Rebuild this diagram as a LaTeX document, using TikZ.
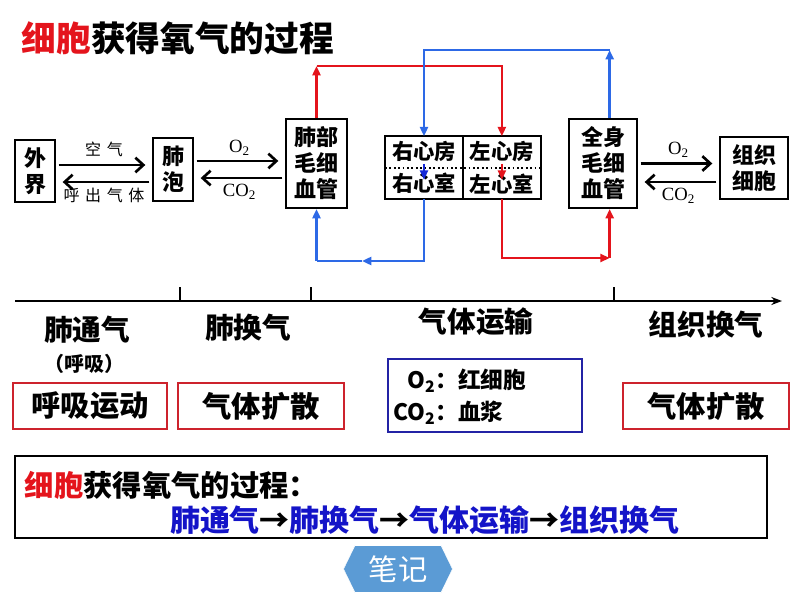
\documentclass[tikz,border=0pt]{standalone}
\usepackage{fontspec}
\setmainfont{Noto Sans CJK SC}
\newfontfamily\serifnum{Liberation Serif}
\newfontfamily\spacedcjk[LetterSpace=35]{Noto Sans CJK SC}
\usetikzlibrary{arrows.meta, positioning, fit, shapes.symbols}

\definecolor{artred}{RGB}{228,20,28}
\definecolor{veinblue}{RGB}{45,105,230}
\definecolor{innerblue}{RGB}{20,40,215}
\definecolor{inkblue}{RGB}{20,20,200}
\definecolor{boxred}{RGB}{205,35,45}
\definecolor{boxblue}{RGB}{35,35,165}
\definecolor{notefill}{RGB}{91,155,213}

\newcommand{\fsz}[2]{\fontsize{#1}{#2}\selectfont}

\begin{document}
\begin{tikzpicture}[x=0.75pt, y=-0.75pt, node distance=0pt,
  organ/.style={rectangle, draw, line width=1.5pt, align=center, inner sep=0pt, font=\bfseries\fsz{16.5pt}{19.5pt}},
  chamber/.style={minimum width=58pt, minimum height=23.25pt, inner sep=0pt, font=\bfseries\fsz{16pt}{19pt}},
  gas/.style={-{Straight Barb[length=6pt,width=11pt]}, line width=2pt, shorten <=2pt, shorten >=5pt},
  gaslabel/.style={font=\serifnum\fsz{14pt}{16pt}},
  airlabel/.style={font=\spacedcjk\fsz{12pt}{14pt}},
  artery/.style={artred, line width=1.8pt},
  vein/.style={veinblue, line width=1.8pt},
  headed/.style={-{Triangle[length=7pt,width=6pt]}},
  stage/.style={font=\bfseries\fsz{21.5pt}{25pt}},
  means/.style={rectangle, draw=boxred, line width=1.2pt, minimum width=115.5pt, minimum height=34.5pt, font=\bfseries\fsz{22pt}{26pt}}
]
  \useasboundingbox (0,0) rectangle (794,596);

  % Title
  \node (title) [anchor=west, font=\bfseries\fsz{26pt}{30pt}] at (17,38) {\textcolor{artred}{细胞}获得氧气的过程};

  % Organs
  \node (waijie) [organ, minimum width=30pt, minimum height=46.5pt] at (35,171) {外\\界};
  \node (feipao) [organ, minimum width=30pt, minimum height=47pt] at (173,169.5) {肺\\泡};
  \node (feibu) [organ, minimum width=45.75pt, minimum height=66.75pt] at (316.5,163.5) {肺部\\毛细\\血管};
  \node (quanshen) [organ, minimum width=51pt, minimum height=66.75pt] at (603,163.5) {全身\\毛细\\血管};
  \node (zuzhi) [organ, minimum width=51pt, minimum height=46.5pt] at (754,168) {组织\\细胞};

  % Heart
  \node (ra) [chamber] at (424,152) {右心房};
  \node (la) [chamber, right=of ra] {左心房};
  \node (rv) [chamber, below=of ra] {右心室};
  \node (lv) [chamber, below=of la] {左心室};
  \node (heart) [draw, line width=1.5pt, inner sep=0pt, fit=(ra)(lv)] {};
  \draw[line width=1pt] (ra.north east) -- (rv.south east);
  \draw[dotted, line width=1.3pt] (ra.south west) -- (la.south east);

  % Gas exchange arrows
  \draw[gas] ([yshift=4.5pt]waijie.east) -- ([yshift=4.5pt]waijie.east -| feipao.west)
    node[midway, above=2pt, airlabel] (kongqi) {空气};
  \draw[gas] ([yshift=-9.4pt]feipao.west) -- ([yshift=-9.4pt]feipao.west -| waijie.east)
    node[midway, below=0pt, airlabel] (huchu) {呼出气体};
  \draw[gas] ([yshift=6.4pt]feipao.east) -- ([yshift=6.4pt]feipao.east -| feibu.west)
    node[midway, above=0pt, gaslabel] (o2lung) {O\textsubscript{2}};
  \draw[gas] ([yshift=-10.9pt]feibu.west) -- ([yshift=-10.9pt]feibu.west -| feipao.east)
    node[midway, below=0pt, gaslabel] (co2lung) {CO\textsubscript{2}};
  \draw[gas] (quanshen.east) -- (quanshen.east -| zuzhi.west)
    node[midway, above=0pt, gaslabel] (o2body) {O\textsubscript{2}};
  \draw[gas] ([yshift=-10.5pt]zuzhi.west) -- ([yshift=-10.5pt]zuzhi.west -| quanshen.east)
    node[midway, below=0pt, gaslabel] (co2body) {CO\textsubscript{2}};

  % Circulation
  \coordinate (bluetop) at (0,50);
  \coordinate (redtop) at (0,66);
  \coordinate (redbot) at (0,258);
  \coordinate (bluebot) at (0,261);
  \coordinate (veinmid) at (362,261);

  \draw[artery, headed] (feibu.north) -- (feibu.north |- redtop);
  \draw[artery, headed] (feibu.north |- redtop) -- (la.north |- redtop) -- (la.north);
  \draw[artery, headed, line width=1.4pt] ([yshift=3pt]la.south) -- ([yshift=-9pt]la.south);
  \draw[artery, headed] (lv.south) -- (lv.south |- redbot) -- ([xshift=5pt]quanshen.south |- redbot);
  \draw[artery, headed] ([xshift=5pt]quanshen.south |- redbot) -- ([xshift=5pt]quanshen.south);

  \draw[vein, headed] ([xshift=5pt]quanshen.north) -- ([xshift=5pt]quanshen.north |- bluetop);
  \draw[vein, headed] ([xshift=5pt]quanshen.north |- bluetop) -- (ra.north |- bluetop) -- (ra.north);
  \draw[innerblue, line width=1.4pt, headed] ([yshift=3pt]ra.south) -- ([yshift=-9pt]ra.south);
  \draw[vein, headed] (rv.south) -- (rv.south |- bluebot) -- (veinmid);
  \draw[vein] (veinmid) -- (feibu.south |- bluebot);
  \draw[vein, headed] (feibu.south |- bluebot) -- (feibu.south);

  % Timeline
  \coordinate (tstart) at (15,301);
  \coordinate (tend) at (782,301);
  \draw[line width=1.6pt, -{Stealth[length=8pt,width=6pt]}] (tstart) -- (tend);
  \foreach \x in {180,311,614}
    \draw[line width=1.3pt] (\x,301) -- (\x,287);

  % Stages
  \node (feitongqi) [stage] at (87,330) {肺通气};
  \node (huxi) [font=\bfseries\fsz{15pt}{18pt}] at (85,364) {（呼吸）};
  \node (feihuanqi) [stage] at (248,328) {肺换气};
  \node (yunshu) [stage] at (476,322) {气体运输};
  \node (zuzhihuanqi) [stage] at (706,325) {组织换气};

  % Means
  \node (huxiyundong) [means] at (90,406) {呼吸运动};
  \node (kuosanlung) [means, minimum width=124.5pt] at (261,406) {气体扩散};
  \node (carrier) [draw=boxblue, line width=1.2pt, minimum width=145.5pt, minimum height=54.75pt] at (485,395.5) {};
  \node (carriertext) [anchor=west, inner sep=0pt, font=\bfseries\fsz{17pt}{24.5pt}] at (393,398)
    {\begin{tabular}{@{}r@{}l@{}}O\textsubscript{2}：&红细胞\\CO\textsubscript{2}：&血浆\end{tabular}};
  \node (kuosanbody) [means, minimum width=124.5pt] at (706,406) {气体扩散};

  % Summary
  \node (summary) [draw, line width=1.3pt, minimum width=564pt, minimum height=61.5pt] at (391,497) {};
  \node (summaryhead) [anchor=west, font=\bfseries\fsz{22pt}{26pt}] at (20,485) {\textcolor{artred}{细胞}获得氧气的过程：};
  \node (summarychain) [text=inkblue, font=\bfseries\fsz{22.5pt}{26pt}] at (425,520)
    {肺通气{\color{black}→}肺换气{\color{black}→}气体运输{\color{black}→}组织换气};

  % Note button
  \node (biji) [shape=signal, signal to=west and east, signal pointer angle=128, fill=notefill, draw=white,
    minimum width=81.75pt, minimum height=35.25pt, inner sep=0pt, text=white, font=\fsz{22pt}{24pt}] at (398,569) {笔记};
\end{tikzpicture}
\end{document}
